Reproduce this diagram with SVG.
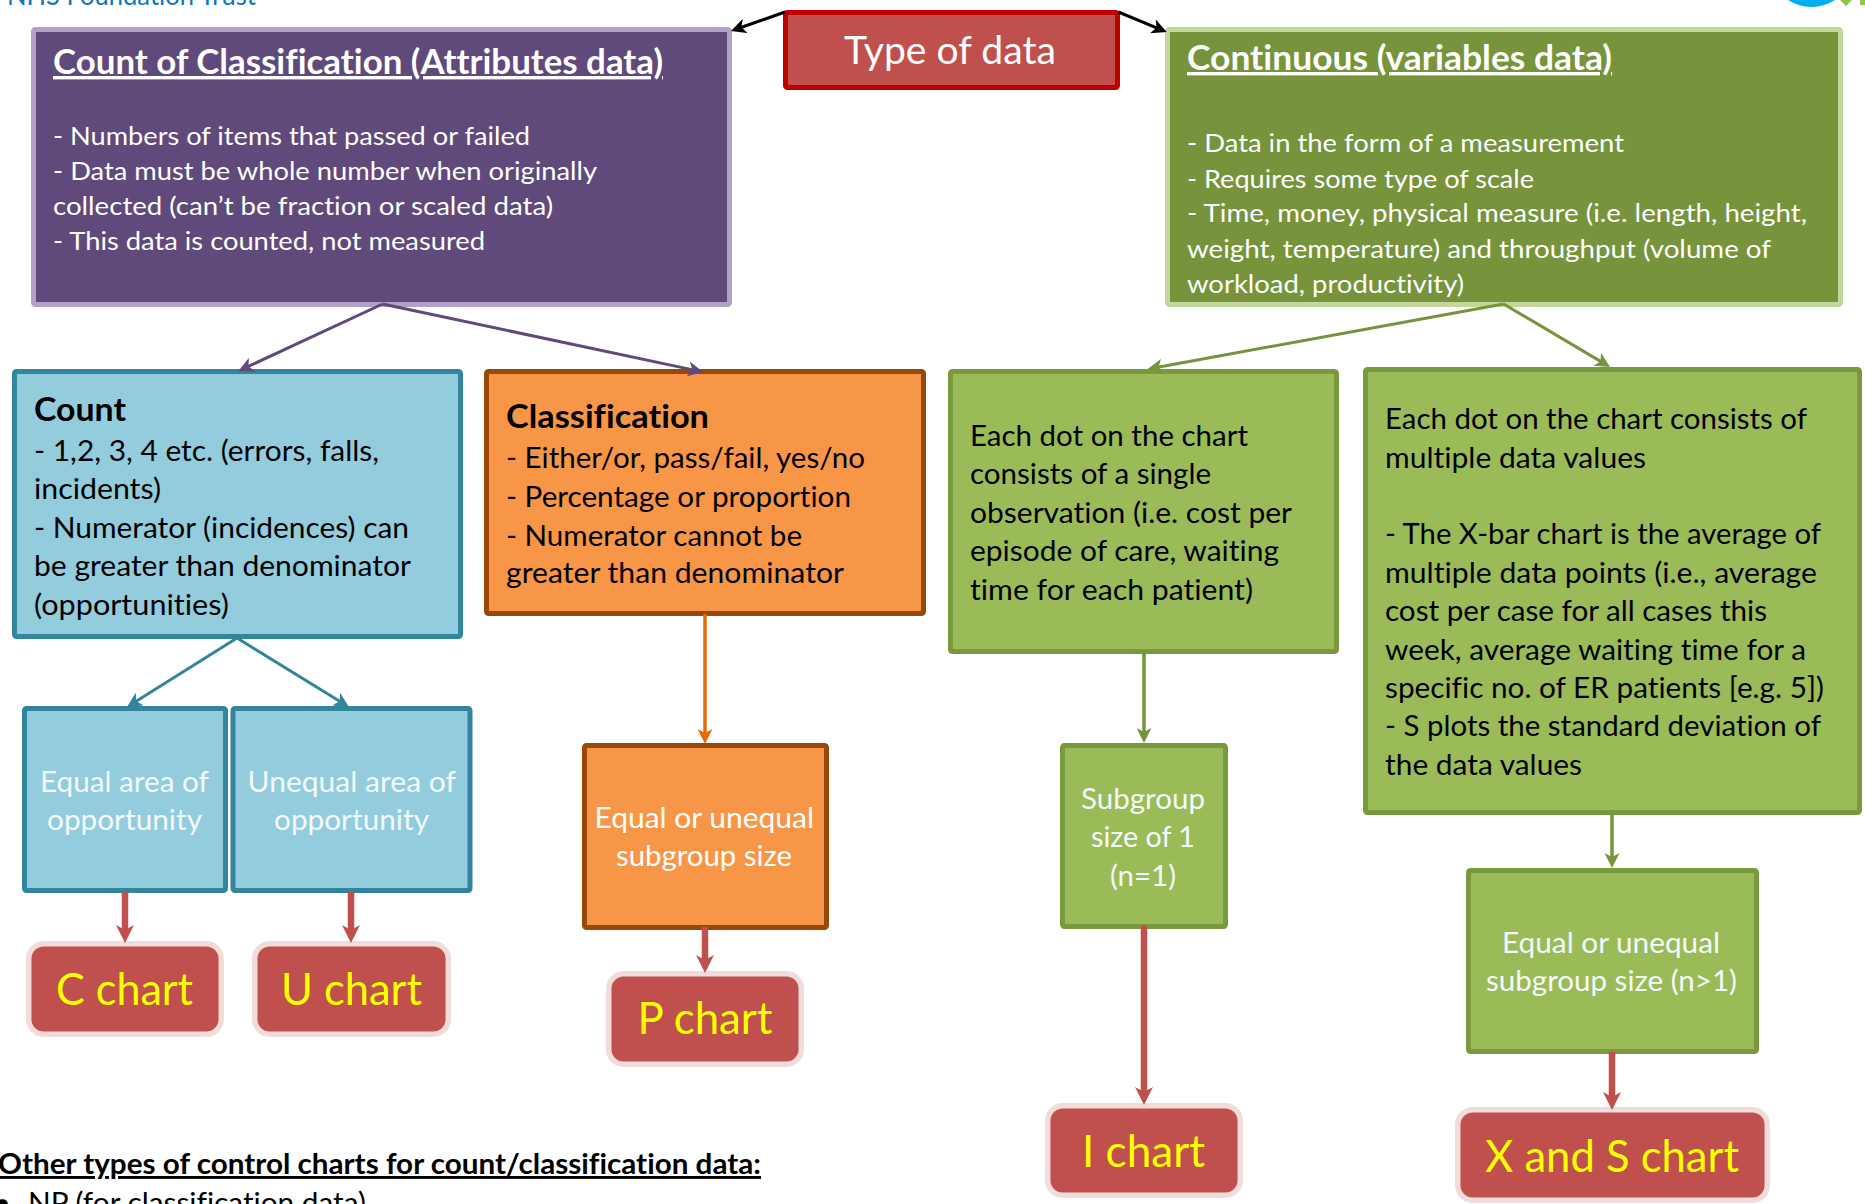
<svg xmlns="http://www.w3.org/2000/svg" width="1865" height="1204" viewBox="0 0 1865 1204">
<style>
text{font-family:"Lato","Carlito","Open Sans","Liberation Sans",sans-serif;font-size:28.5px;fill:#000;font-variant-ligatures:none}
.box{stroke-width:5}
.w{fill:#f4f9fb}
.h{font-size:25.5px;fill:#fff}
.t{font-size:34px;font-weight:700;fill:#fff;text-decoration:underline;text-decoration-thickness:3px;text-underline-offset:5px;text-decoration-skip-ink:none}
.b{font-size:32px;font-weight:700}
.c{font-size:44px;fill:#ff0}
.n{font-size:29px}
.chart{fill:#c0504d;stroke:#f2dcdb;stroke-width:5.5}
.teal{fill:#93cddd;stroke:#31859c}
.org{fill:#f79646;stroke:#984807}
.grn{fill:#9bbb59;stroke:#7a983e}
#connectors line{fill:none}
.l3{stroke-width:3}
.l4{stroke-width:3.5}
.l6{stroke-width:6.5}
</style>
<defs>
<marker id="aK" markerUnits="userSpaceOnUse" markerWidth="15" markerHeight="15" refX="6" refY="7.5" orient="auto"><path d="M0,0L15,7.5L0,15L4,7.5Z" fill="#000"/></marker>
<marker id="aP" markerUnits="userSpaceOnUse" markerWidth="15" markerHeight="15" refX="6" refY="7.5" orient="auto"><path d="M0,0L15,7.5L0,15L4,7.5Z" fill="#604a7b"/></marker>
<marker id="aT" markerUnits="userSpaceOnUse" markerWidth="15" markerHeight="15" refX="6" refY="7.5" orient="auto"><path d="M0,0L15,7.5L0,15L4,7.5Z" fill="#31859c"/></marker>
<marker id="aO" markerUnits="userSpaceOnUse" markerWidth="15" markerHeight="15" refX="6" refY="7.5" orient="auto"><path d="M0,0L15,7.5L0,15L4,7.5Z" fill="#e36c09"/></marker>
<marker id="aG" markerUnits="userSpaceOnUse" markerWidth="15" markerHeight="15" refX="6" refY="7.5" orient="auto"><path d="M0,0L15,7.5L0,15L4,7.5Z" fill="#77933c"/></marker>
<marker id="aR" markerUnits="userSpaceOnUse" markerWidth="18" markerHeight="18" refX="7" refY="9" orient="auto"><path d="M0,0L18,9L0,18L5,9Z" fill="#c0504d"/></marker>
</defs>
<rect width="1865" height="1204" fill="#fff"/>
<g id="header">
<text x="7" y="5" style="fill:#0f75bc;font-size:26px" textLength="249" lengthAdjust="spacingAndGlyphs">NHS Foundation Trust</text>
<path d="M1788,0A43,43 0 0 0 1835,0Z" fill="#00aeef"/>
<path d="M1840,0L1852,0L1846,6Z" fill="#8dc63f"/>
<rect x="1860" y="0" width="5" height="5" fill="#8dc63f"/>
</g>
<g id="node-type">
<rect x="785.5" y="12.5" width="332" height="75" rx="2" fill="#c0504d" stroke="#c00000" class="box"/>
<text x="844" y="64" style="font-size:38px;fill:#fff" textLength="212" lengthAdjust="spacingAndGlyphs">Type of data</text>
</g>
<g id="node-attributes">
<rect x="33.5" y="29.5" width="696" height="275" rx="2" fill="#604a7b" stroke="#b2a1c7" class="box"/>
<text x="53" y="74" class="t" textLength="610" lengthAdjust="spacingAndGlyphs">Count of Classification (Attributes data)</text>
<text x="53" y="145" class="h" textLength="477" lengthAdjust="spacingAndGlyphs">- Numbers of items that passed or failed</text>
<text x="53" y="180" class="h" textLength="544" lengthAdjust="spacingAndGlyphs">- Data must be whole number when originally</text>
<text x="53" y="215" class="h" textLength="500" lengthAdjust="spacingAndGlyphs">collected (can’t be fraction or scaled data)</text>
<text x="53" y="250" class="h" textLength="432" lengthAdjust="spacingAndGlyphs">- This data is counted, not measured</text>
</g>
<g id="node-variables">
<rect x="1167.5" y="29.5" width="673" height="275" rx="2" fill="#77933c" stroke="#c3d69b" class="box"/>
<text x="1187" y="70" class="t" textLength="425" lengthAdjust="spacingAndGlyphs">Continuous (variables data)</text>
<text x="1187" y="152" class="h" textLength="437" lengthAdjust="spacingAndGlyphs">- Data in the form of a measurement</text>
<text x="1187" y="188" class="h" textLength="347" lengthAdjust="spacingAndGlyphs">- Requires some type of scale</text>
<text x="1187" y="222" class="h" textLength="620" lengthAdjust="spacingAndGlyphs">- Time, money, physical measure (i.e. length, height,</text>
<text x="1187" y="258" class="h" textLength="584" lengthAdjust="spacingAndGlyphs">weight, temperature) and throughput (volume of</text>
<text x="1187" y="293" class="h" textLength="277" lengthAdjust="spacingAndGlyphs">workload, productivity)</text>
</g>
<g id="node-count">
<rect x="14.5" y="371.5" width="446" height="265" rx="2" class="box teal"/>
<text x="34" y="421" class="b" textLength="92" lengthAdjust="spacingAndGlyphs">Count</text>
<text x="34" y="461" textLength="345" lengthAdjust="spacingAndGlyphs">- 1,2, 3, 4 etc. (errors, falls,</text>
<text x="34" y="499" textLength="127" lengthAdjust="spacingAndGlyphs">incidents)</text>
<text x="34" y="538" textLength="375" lengthAdjust="spacingAndGlyphs">- Numerator (incidences) can</text>
<text x="34" y="576" textLength="377" lengthAdjust="spacingAndGlyphs">be greater than denominator</text>
<text x="34" y="615" textLength="195" lengthAdjust="spacingAndGlyphs">(opportunities)</text>
</g>
<g id="node-classification">
<rect x="486.5" y="371.5" width="437" height="242" rx="2" class="box org"/>
<text x="506" y="428" class="b" textLength="203" lengthAdjust="spacingAndGlyphs">Classification</text>
<text x="506" y="468" textLength="359" lengthAdjust="spacingAndGlyphs">- Either/or, pass/fail, yes/no</text>
<text x="506" y="507" textLength="345" lengthAdjust="spacingAndGlyphs">- Percentage or proportion</text>
<text x="506" y="546" textLength="296" lengthAdjust="spacingAndGlyphs">- Numerator cannot be</text>
<text x="506" y="583" textLength="338" lengthAdjust="spacingAndGlyphs">greater than denominator</text>
</g>
<g id="node-single">
<rect x="950.5" y="371.5" width="386" height="280" rx="2" class="box grn"/>
<text x="970" y="446" textLength="278" lengthAdjust="spacingAndGlyphs">Each dot on the chart</text>
<text x="970" y="484" textLength="241" lengthAdjust="spacingAndGlyphs">consists of a single</text>
<text x="970" y="523" textLength="322" lengthAdjust="spacingAndGlyphs">observation (i.e. cost per</text>
<text x="970" y="561" textLength="309" lengthAdjust="spacingAndGlyphs">episode of care, waiting</text>
<text x="970" y="600" textLength="283" lengthAdjust="spacingAndGlyphs">time for each patient)</text>
</g>
<g id="node-multiple">
<rect x="1365.5" y="369.5" width="494" height="443" rx="2" class="box grn"/>
<text x="1385" y="429" textLength="422" lengthAdjust="spacingAndGlyphs">Each dot on the chart consists of</text>
<text x="1385" y="468" textLength="261" lengthAdjust="spacingAndGlyphs">multiple data values</text>
<text x="1385" y="544" textLength="436" lengthAdjust="spacingAndGlyphs">- The X-bar chart is the average of</text>
<text x="1385" y="583" textLength="432" lengthAdjust="spacingAndGlyphs">multiple data points (i.e., average</text>
<text x="1385" y="621" textLength="382" lengthAdjust="spacingAndGlyphs">cost per case for all cases this</text>
<text x="1385" y="660" textLength="421" lengthAdjust="spacingAndGlyphs">week, average waiting time for a</text>
<text x="1385" y="698" textLength="439" lengthAdjust="spacingAndGlyphs">specific no. of ER patients [e.g. 5])</text>
<text x="1385" y="736" textLength="436" lengthAdjust="spacingAndGlyphs">- S plots the standard deviation of</text>
<text x="1385" y="775" textLength="197" lengthAdjust="spacingAndGlyphs">the data values</text>
</g>
<g id="node-equal-area">
<rect x="24.5" y="708.5" width="201" height="182" rx="2" class="box teal"/>
<text x="40" y="792" class="w" textLength="169" lengthAdjust="spacingAndGlyphs">Equal area of</text>
<text x="47" y="830" class="w" textLength="155" lengthAdjust="spacingAndGlyphs">opportunity</text>
</g>
<g id="node-unequal-area">
<rect x="233" y="708.5" width="237" height="182" rx="2" class="box teal"/>
<text x="247.5" y="792" class="w" textLength="208.5" lengthAdjust="spacingAndGlyphs">Unequal area of</text>
<text x="274" y="830" class="w" textLength="155" lengthAdjust="spacingAndGlyphs">opportunity</text>
</g>
<g id="node-equal-subgroup">
<rect x="584.5" y="745.5" width="242" height="182" rx="2" class="box org"/>
<text x="594.5" y="828" style="fill:#fff" textLength="219.5" lengthAdjust="spacingAndGlyphs">Equal or unequal</text>
<text x="616" y="866" style="fill:#fff" textLength="176" lengthAdjust="spacingAndGlyphs">subgroup size</text>
</g>
<g id="node-subgroup-1">
<rect x="1062.5" y="745.5" width="163" height="181" rx="2" class="box grn"/>
<text x="1081" y="809" class="w" textLength="124" lengthAdjust="spacingAndGlyphs">Subgroup</text>
<text x="1091" y="847" class="w" textLength="104" lengthAdjust="spacingAndGlyphs">size of 1</text>
<text x="1110" y="886" class="w" textLength="66" lengthAdjust="spacingAndGlyphs">(n=1)</text>
</g>
<g id="node-subgroup-n">
<rect x="1468.5" y="870.5" width="288" height="181" rx="2" class="box grn"/>
<text x="1502" y="953" class="w" textLength="218" lengthAdjust="spacingAndGlyphs">Equal or unequal</text>
<text x="1486" y="991" class="w" textLength="251" lengthAdjust="spacingAndGlyphs">subgroup size (n&gt;1)</text>
</g>
<g id="node-c-chart">
<rect x="28.7" y="943.7" width="192.6" height="90.6" rx="15" class="chart"/>
<text x="56" y="1005" class="c" textLength="137" lengthAdjust="spacingAndGlyphs">C chart</text>
</g>
<g id="node-u-chart">
<rect x="254.7" y="943.7" width="193.6" height="90.6" rx="15" class="chart"/>
<text x="281" y="1005" class="c" textLength="141" lengthAdjust="spacingAndGlyphs">U chart</text>
</g>
<g id="node-p-chart">
<rect x="608.7" y="973.7" width="192.6" height="90.6" rx="15" class="chart"/>
<text x="637.5" y="1034" class="c" textLength="135" lengthAdjust="spacingAndGlyphs">P chart</text>
</g>
<g id="node-i-chart">
<rect x="1047.7" y="1105.7" width="192.6" height="89.6" rx="15" class="chart"/>
<text x="1082" y="1167" class="c" textLength="123" lengthAdjust="spacingAndGlyphs">I chart</text>
</g>
<g id="node-xs-chart">
<rect x="1457.7" y="1109.7" width="309.6" height="90.6" rx="15" class="chart"/>
<text x="1485" y="1172" class="c" textLength="254" lengthAdjust="spacingAndGlyphs">X and S chart</text>
</g>
<g id="note">
<text x="-2" y="1174" class="n" style="font-weight:700;text-decoration:underline;text-decoration-thickness:3px;text-underline-offset:5px;text-decoration-skip-ink:none" textLength="763" lengthAdjust="spacingAndGlyphs">Other types of control charts for count/classification data:</text>
<text x="-6" y="1213" class="n">•</text>
<text x="28" y="1213" class="n" textLength="338" lengthAdjust="spacingAndGlyphs">NP (for classification data)</text>
</g>
<g id="connectors">
<line x1="785" y1="12" x2="739.5" y2="28" stroke="#000" class="l3" marker-end="url(#aK)"/>
<line x1="1118.4" y1="12" x2="1158.4" y2="28.6" stroke="#000" class="l3" marker-end="url(#aK)"/>
<line x1="382.6" y1="304" x2="246.6" y2="367.2" stroke="#604a7b" class="l3" marker-end="url(#aP)"/>
<line x1="382.6" y1="304" x2="694.2" y2="370.1" stroke="#604a7b" class="l3" marker-end="url(#aP)"/>
<line x1="1503.6" y1="304" x2="1156.5" y2="367.4" stroke="#77933c" class="l3" marker-end="url(#aG)"/>
<line x1="1503.6" y1="304" x2="1602.3" y2="362.4" stroke="#77933c" class="l3" marker-end="url(#aG)"/>
<line x1="237" y1="638" x2="134.6" y2="702.2" stroke="#31859c" class="l3" marker-end="url(#aT)"/>
<line x1="237" y1="638" x2="341.3" y2="702.3" stroke="#31859c" class="l3" marker-end="url(#aT)"/>
<line x1="705" y1="614" x2="705" y2="735" stroke="#e36c09" class="l4" marker-end="url(#aO)"/>
<line x1="1144" y1="652" x2="1144" y2="734" stroke="#77933c" class="l4" marker-end="url(#aG)"/>
<line x1="1612" y1="813" x2="1612" y2="859" stroke="#77933c" class="l4" marker-end="url(#aG)"/>
<line x1="125" y1="891" x2="125" y2="932" stroke="#c0504d" class="l6" marker-end="url(#aR)"/>
<line x1="351" y1="891" x2="351" y2="932" stroke="#c0504d" class="l6" marker-end="url(#aR)"/>
<line x1="705" y1="927" x2="705" y2="962" stroke="#c0504d" class="l6" marker-end="url(#aR)"/>
<line x1="1144" y1="925" x2="1144" y2="1094" stroke="#c0504d" class="l6" marker-end="url(#aR)"/>
<line x1="1612" y1="1052" x2="1612" y2="1099" stroke="#c0504d" class="l6" marker-end="url(#aR)"/>
</g>
</svg>
